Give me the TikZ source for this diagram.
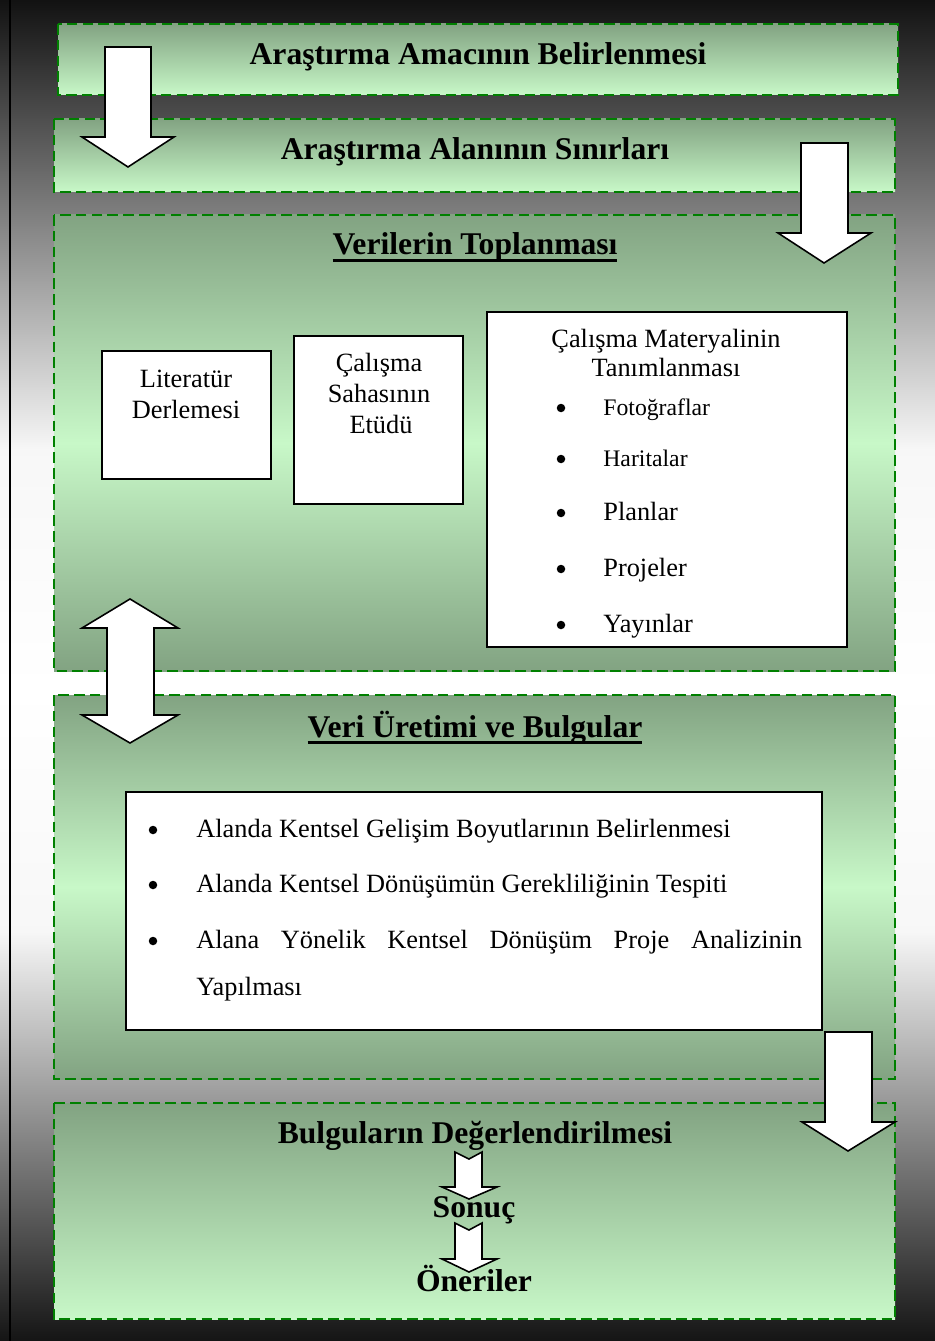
\documentclass[tikz,border=0pt]{standalone}
\usepackage{fontspec}
\setmainfont{Liberation Serif}

\newcommand{\thickul}[1]{\setbox0\hbox{#1}\rlap{\copy0}\rule[-4pt]{\wd0}{1.5pt}}

\definecolor{gdark}{RGB}{130,163,130}
\definecolor{glight}{RGB}{200,248,200}
\definecolor{gline}{RGB}{0,128,0}
\pgfdeclareverticalshading{pageshade}{100bp}{color(0bp)=(black!92); color(25bp)=(black!92); color(40.3bp)=(black!3); color(49.3bp)=(white); color(58.2bp)=(black!3); color(75bp)=(black!93); color(100bp)=(black!93)}

\tikzset{
  stagebox/.style={draw=gline, dash pattern=on 6pt off 3pt, line width=1.1pt},
  whitebox/.style={draw=black, fill=white, line width=1.1pt},
  blockarrow/.style={draw=black, fill=white, line width=0.9pt, line join=miter},
  title/.style={inner sep=0pt, anchor=base, font=\fontsize{18}{21}\selectfont\bfseries},
  body/.style={inner sep=0pt, anchor=base, font=\fontsize{15}{17}\selectfont},
  small/.style={inner sep=0pt, anchor=base west, font=\fontsize{13.5}{16}\selectfont},
  dot/.style={circle, fill=black, inner sep=0pt, minimum size=0.17cm}
}

\begin{document}
\begin{tikzpicture}[x=0.02cm, y=-0.02cm]
      \useasboundingbox (0,0) rectangle (935,1341);
      \shade[shading=pageshade] (0,0) rectangle (935,1341);
      \draw[line width=0.8pt] (10,0) -- (10,1341);

      \draw[stagebox, top color=gdark, bottom color=glight] (58,24) rectangle (898,95);
      \draw[stagebox, top color=gdark, bottom color=glight] (54,119) rectangle (895,192);
      \draw[stagebox, top color=gdark, bottom color=gdark, middle color=glight] (54,215) rectangle (895,671);
      \draw[stagebox, top color=gdark, bottom color=gdark, middle color=glight] (54,695) rectangle (895,1079);
      \draw[stagebox, top color=gdark, bottom color=glight] (54,1103) rectangle (895,1319);

      \node[title] (amac) at (478,65) {Araştırma Amacının Belirlenmesi};
      \node[title] (sinir) at (475,160) {Araştırma Alanının Sınırları};
      \node[title] (toplama) at (475,255) {\thickul{Verilerin Toplanması}};
      \node[title] (uretim) at (475,737) {\thickul{Veri Üretimi ve Bulgular}};
      \node[title] (deger) at (475,1143) {Bulguların Değerlendirilmesi};
      \node[title] (sonuc) at (474,1217) {Sonuç};
      \node[title] (oneri) at (474,1291) {Öneriler};

      \draw[whitebox] (102,351) rectangle (271,479);
      \node[body] (lit1) at (186,387) {Literatür};
      \node[body] (lit2) at (186,418) {Derlemesi};

      \draw[whitebox] (294,336) rectangle (463,504);
      \node[body] (saha1) at (379,371) {Çalışma};
      \node[body] (saha2) at (379,402) {Sahasının};
      \node[body] (saha3) at (381,433) {Etüdü};

      \draw[whitebox] (487,312) rectangle (847,647);
      \node[body] (mat1) at (666,347) {Çalışma Materyalinin};
      \node[body] (mat2) at (666,376) {Tanımlanması};
      \node[dot] (dot1) at (561,408) {};
      \node[small] (foto) at (603,415) {Fotoğraflar};
      \node[dot] (dot2) at (561,459) {};
      \node[small] (harita) at (603,466) {Haritalar};
      \node[dot] (dot3) at (561,513) {};
      \node[body, anchor=base west] (plan) at (603,520) {Planlar};
      \node[dot] (dot4) at (561,569) {};
      \node[body, anchor=base west] (proje) at (603,576) {Projeler};
      \node[dot] (dot5) at (561,625) {};
      \node[body, anchor=base west] (yayin) at (603,632) {Yayınlar};

      \draw[whitebox] (126,792) rectangle (822,1030);
      \node[dot] (dot6) at (153,830) {};
      \node[body, anchor=base west] (gelisim) at (196,837) {Alanda Kentsel Gelişim Boyutlarının Belirlenmesi};
      \node[dot] (dot7) at (153,885) {};
      \node[body, anchor=base west] (donusum) at (196,892) {Alanda Kentsel Dönüşümün Gerekliliğinin Tespiti};
      \node[dot] (dot8) at (153,941) {};
      \node[body, anchor=base west] (analiz1) at (196,948) {\makebox[12.12cm][s]{Alana Yönelik Kentsel Dönüşüm Proje Analizinin}};
      \node[body, anchor=base west] (analiz2) at (196,995) {Yapılması};

      \draw[blockarrow] (105,47) -- (151,47) -- (151,137) -- (174,137) -- (128,167) -- (82,137) -- (105,137) -- cycle;
      \draw[blockarrow] (801,143) -- (848,143) -- (848,233) -- (871,233) -- (824,263) -- (778,233) -- (801,233) -- cycle;
      \draw[blockarrow] (130,599) -- (178,628) -- (154,628) -- (154,715) -- (178,715) -- (130,743) -- (82,715) -- (107,715) -- (107,628) -- (82,628) -- cycle;
      \draw[blockarrow] (825,1032) -- (872,1032) -- (872,1122) -- (895,1122) -- (848,1151) -- (802,1122) -- (825,1122) -- cycle;
      \draw[blockarrow] (455,1152) -- (469,1159) -- (482,1152) -- (482,1187) -- (497,1187) -- (469,1199) -- (442,1187) -- (455,1187) -- cycle;
      \draw[blockarrow] (455,1223) -- (469,1230) -- (482,1223) -- (482,1259) -- (497,1259) -- (469,1272) -- (442,1259) -- (455,1259) -- cycle;

    \end{tikzpicture}
\end{document}
